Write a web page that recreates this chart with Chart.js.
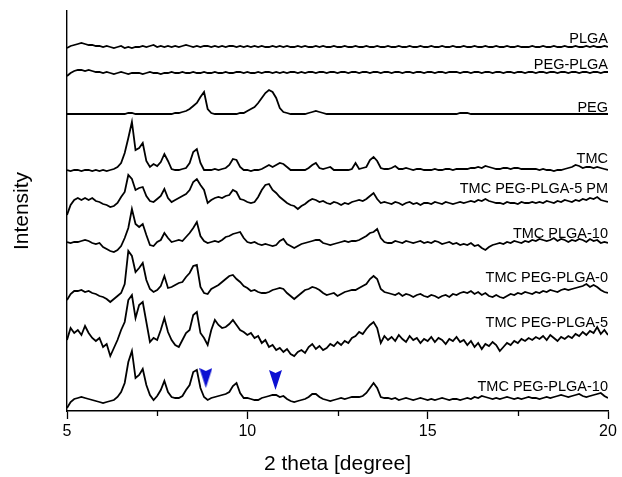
<!DOCTYPE html>
<html>
<head>
<meta charset="utf-8">
<script src="https://cdn.jsdelivr.net/npm/chart.js@4.4.1/dist/chart.umd.min.js"></script>
<style>
html,body{margin:0;padding:0;background:#fff;}
#wrap{width:622px;height:477px;position:relative;}
</style>
</head>
<body>
<div id="wrap"><canvas id="c"></canvas></div>
<script>
// 2θ sampling grid (degrees), 5.0 .. 20.0 step 0.1
const twoTheta = Array.from({length:151},(_, i)=> +(5 + i*0.1).toFixed(1));

const seriesNames = ["PLGA","PEG-PLGA","PEG","TMC","TMC PEG-PLGA-5 PM","TMC PLGA-10","TMC PEG-PLGA-0","TMC PEG-PLGA-5","TMC PEG-PLGA-10"];

// stacked (offset) intensities
const PLGA = [363,365,366,367,368,367,366,366,365,365,
364,365,364,363,364,365,363,364,363,364,
364,365,364,365,366,364,365,364,365,364,
365,364,365,366,365,364,365,364,365,365,
364,365,364,365,364,365,365,364,365,364,
365,364,365,364,365,364,364,365,364,365,
364,365,364,364,365,364,365,364,364,365,
364,365,364,364,365,364,364,365,364,364,
365,364,364,365,364,364,365,364,364,365,
364,364,365,364,364,365,364,364,365,364,
364,365,364,364,365,364,364,365,364,364,
365,364,364,365,364,364,365,364,364,365,
364,364,365,364,364,365,364,364,364,365,
364,364,365,364,364,365,364,364,365,364,
364,365,364,364,365,364,365,364,364,365,
364];

const PEG_PLGA = [335,338,340,341,341,340,341,340,339,339,
338,339,338,337,338,339,338,337,338,338,
338,337,338,339,338,338,337,338,338,339,
338,338,339,338,338,339,338,338,339,338,
338,339,338,338,339,338,338,339,339,338,
339,338,338,339,338,339,339,338,339,338,
339,338,339,339,338,339,338,339,339,338,
339,339,338,339,339,338,339,339,338,339,
339,338,339,339,338,339,339,338,339,339,
338,339,339,338,339,339,338,339,339,338,
339,339,338,339,339,338,339,339,339,338,
339,339,338,339,339,338,339,339,338,339,
339,338,339,339,338,339,339,338,339,339,
338,339,339,338,339,339,338,339,339,338,
339,339,338,339,339,338,339,339,338,339,
339];

const PEG = [297,297,297,297,297,297,297,297,297,297,
297,297,297,297,297,297,297,298,298,297,
297,297,297,297,297,297,297,297,297,297,
298,298,299,300,302,305,308,314,319,302,
298,297,297,297,297,297,297,297,298,298,
300,302,304,308,313,318,321,319,313,303,
299,298,297,297,297,297,297,298,299,300,
299,298,297,297,297,297,297,297,297,297,
297,297,297,297,297,297,297,297,297,297,
297,297,297,297,297,297,297,297,297,297,
297,297,297,297,297,297,297,297,297,298,
298,298,297,297,297,297,297,297,297,297,
297,297,297,297,297,297,297,297,297,297,
297,297,297,297,297,297,297,297,297,297,
297,297,297,297,297,297,297,297,297,297,
297];

const TMC = [241,240,241,241,240,241,241,240,241,240,
241,240,241,242,244,248,258,273,289,261,
263,268,250,244,247,245,249,257,250,242,
241,241,242,243,248,259,262,248,241,241,
241,242,241,242,243,246,252,251,244,241,
241,240,241,241,242,244,246,244,246,248,
247,244,241,241,241,241,241,243,246,248,
243,242,243,244,241,241,241,241,241,242,
248,242,243,244,251,254,250,243,242,242,
243,245,242,242,243,242,241,242,242,241,
241,241,242,241,241,242,242,241,242,242,
242,242,243,243,244,243,245,244,243,242,
242,243,243,242,243,243,242,242,242,242,
242,241,242,241,241,240,241,241,242,243,
244,246,245,243,244,244,243,244,243,242,
241];

const TMC_PM5 = [196,206,211,213,211,213,211,213,210,209,
207,206,204,205,208,214,219,236,232,221,
223,224,215,210,209,212,215,222,213,209,
211,213,215,217,221,229,232,226,221,208,
211,213,214,213,215,216,221,219,212,211,
209,208,209,214,221,226,227,221,218,214,
211,208,206,205,202,205,207,210,212,211,
209,210,208,207,209,208,206,208,207,209,
210,211,210,212,215,218,212,208,209,208,
207,209,208,206,208,209,207,208,206,208,
208,207,209,208,207,209,208,207,208,209,
208,209,210,209,211,210,212,210,209,208,
208,207,209,208,208,207,209,208,208,209,
208,209,208,210,209,208,210,209,211,210,
209,211,210,212,211,213,212,214,211,210,
209];

const TMC_PLGA10 = [169,168,169,169,170,171,170,168,167,168,
164,162,160,159,161,165,173,183,202,187,
184,187,176,166,165,169,171,178,173,169,
170,171,170,174,178,183,189,175,170,168,
169,170,169,171,174,175,177,178,179,173,
169,168,169,167,166,167,166,165,166,170,
172,167,165,163,165,167,168,169,170,171,
171,168,167,166,167,168,169,170,169,170,
170,171,173,175,178,179,182,173,169,168,
168,170,169,168,170,169,168,169,170,168,
169,168,170,169,167,168,169,167,168,166,
167,166,168,165,166,163,161,164,166,167,
168,167,169,168,170,169,168,170,169,171,
170,172,171,170,171,173,170,172,171,169,
171,170,172,171,169,172,170,171,168,169,
168];

const TMC_PEGPLGA0 = [111,117,120,120,121,119,120,118,117,115,
114,112,109,112,115,118,127,160,155,139,
143,148,131,122,119,121,125,135,123,124,
126,128,129,134,138,145,146,124,118,117,
122,124,126,129,132,135,136,132,129,125,
123,120,121,119,118,118,119,121,122,123,
122,118,115,112,115,118,121,122,124,123,
121,118,116,117,118,115,117,119,120,121,
121,123,125,127,132,135,132,122,119,118,
117,116,118,115,117,116,114,116,117,115,
114,116,115,113,115,116,114,117,116,118,
119,118,120,117,119,116,118,115,114,116,
114,113,115,117,116,118,117,119,118,117,
119,118,120,119,121,120,119,121,122,121,
122,123,124,125,127,124,126,124,121,119,
118];

const TMC_PEGPLGA5 = [71,83,78,81,76,85,78,73,70,73,
64,67,55,63,71,81,89,111,116,93,
106,109,89,69,73,71,81,93,79,71,
66,64,71,78,81,96,99,78,73,66,
81,91,86,83,84,87,91,86,81,79,
76,78,73,75,68,71,64,66,61,63,
59,62,57,55,59,61,58,64,67,62,
65,61,63,67,65,69,66,70,68,73,
75,79,77,82,86,89,83,68,75,71,
74,70,76,72,69,75,71,73,68,72,
70,74,69,73,71,67,72,70,74,69,
71,66,70,64,68,62,67,65,69,66,
60,64,68,66,70,68,72,70,73,71,
74,72,75,71,76,73,70,74,72,75,
73,77,75,79,76,80,78,84,77,81,
76];

const TMC_PEGPLGA10 = [3,9,12,13,14,13,12,11,10,9,
8,9,10,11,14,19,28,49,60,33,
36,42,26,16,11,15,21,30,19,14,
13,13,15,21,26,39,41,23,14,11,
13,14,15,16,17,19,25,28,18,13,
13,12,11,11,13,14,15,16,16,14,
15,12,10,9,10,11,12,14,17,17,
14,12,11,10,11,12,13,12,13,14,
14,14,15,18,23,28,23,14,13,13,
12,13,11,12,13,12,11,12,13,12,
11,12,11,12,13,12,11,12,12,11,
12,13,12,14,13,15,14,13,12,13,
12,13,14,13,12,13,12,13,14,13,
13,12,13,14,13,14,15,16,15,14,
15,16,17,15,14,15,16,17,18,15,
13];

// blue arrow markers (2θ, intensity level)
const arrowTheta = [8.85, 10.78];
const arrowLevel = [33, 31];

// x tick values: labelled majors and unlabelled minors
const majorTicks = [5, 10, 15, 20];
const minorTicks = [7.5, 12.5, 17.5];

const seriesData = [PLGA, PEG_PLGA, PEG, TMC, TMC_PM5, TMC_PLGA10, TMC_PEGPLGA0, TMC_PEGPLGA5, TMC_PEGPLGA10];
// label baseline levels (y units) for the right-hand captions
const labelLevels = [368, 342, 299, 248, 218, 173, 129, 84, 20];

const FONT = "'Liberation Sans', Arial, sans-serif";

// arrowhead marker
const arrow = document.createElement('canvas');
arrow.width = 13; arrow.height = 20;
(function(){
  const g = arrow.getContext('2d');
  g.fillStyle = '#0c10d2';
  g.beginPath();
  g.moveTo(0,0); g.lineTo(6.5,3); g.lineTo(13,0); g.lineTo(6.5,20); g.closePath();
  g.fill();
})();

const datasets = seriesData.map((arr, k) => ({
  label: seriesNames[k],
  data: twoTheta.map((t, i) => ({x: t, y: arr[i]})),
  borderColor: '#000',
  borderWidth: 1.8,
  pointRadius: 0,
  fill: false,
  tension: 0
}));
datasets.push({
  label: 'arrows',
  data: arrowTheta.map((t, i) => ({x: t, y: arrowLevel[i]})),
  showLine: false,
  pointStyle: arrow,
  pointRadius: 10,
  borderWidth: 0
});

const labelPlugin = {
  id: 'seriesLabels',
  afterDatasetsDraw(chart) {
    const {ctx, scales: {x, y}} = chart;
    ctx.save();
    ctx.font = '14.5px ' + FONT;
    ctx.fillStyle = '#000';
    ctx.textAlign = 'right';
    ctx.textBaseline = 'alphabetic';
    seriesNames.forEach((n, k) => {
      ctx.fillText(n, x.getPixelForValue(20), y.getPixelForValue(labelLevels[k]));
    });
    // minor (shorter) tick marks
    ctx.strokeStyle = '#000';
    ctx.lineWidth = 1.3;
    const yb = chart.chartArea.bottom;
    minorTicks.forEach(v => {
      const px = Math.round(x.getPixelForValue(v)) + 0.5;
      ctx.beginPath();
      ctx.moveTo(px, yb);
      ctx.lineTo(px, yb + 5);
      ctx.stroke();
    });
    ctx.restore();
  }
};

new Chart(document.getElementById('c'), {
  type: 'line',
  data: { datasets },
  plugins: [labelPlugin],
  options: {
    responsive: true,
    maintainAspectRatio: false,
    animation: false,
    layout: { padding: { top: 11, right: 14, left: 0, bottom: 0 } },
    plugins: { legend: { display: false }, tooltip: { enabled: false } },
    scales: {
      x: {
        type: 'linear',
        min: 5, max: 20,
        afterFit(s) { s.height = 66; },
        afterBuildTicks(s) { s.ticks = majorTicks.map(v => ({value: v})); },
        border: { display: true, color: '#000', width: 1.4 },
        grid: { drawOnChartArea: false, drawTicks: true, tickLength: 8, color: '#000', tickWidth: 1.3 },
        ticks: {
          autoSkip: false,
          maxRotation: 0,
          padding: 3,
          color: '#000',
          font: { family: FONT, size: 16 },
          callback: v => String(v)
        },
        title: {
          display: true,
          text: '2 theta [degree]',
          color: '#000',
          font: { family: FONT, size: 21 },
          padding: { top: 0, bottom: 0 }
        }
      },
      y: {
        min: 0, max: 400,
        afterFit(s) { s.width = 67; },
        border: { display: true, color: '#000', width: 1.4 },
        grid: { display: false, drawTicks: false },
        ticks: { display: false },
        title: {
          display: true,
          text: 'Intensity',
          color: '#000',
          font: { family: FONT, size: 21 },
          padding: { top: 10, bottom: 0 }
        }
      }
    }
  }
});
</script>
</body>
</html>
